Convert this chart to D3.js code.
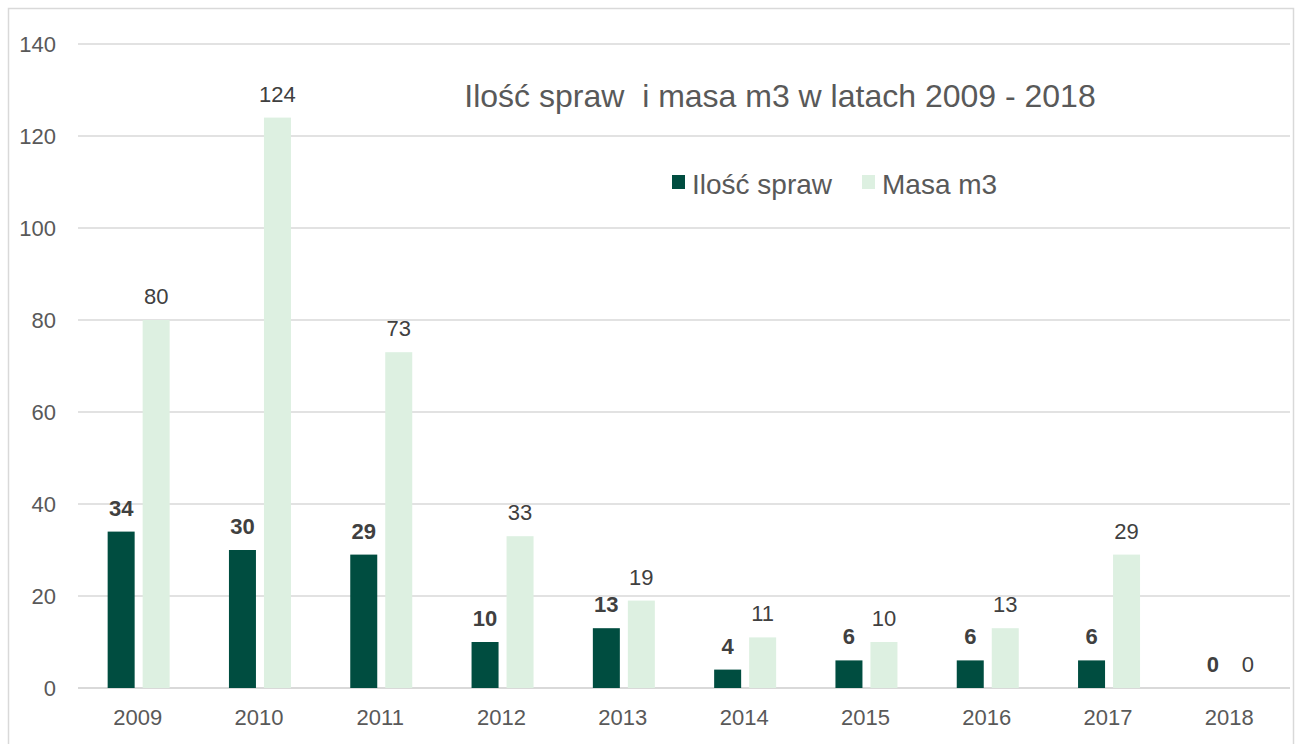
<!DOCTYPE html>
<html>
<head>
<meta charset="utf-8">
<script src="https://cdn.jsdelivr.net/npm/d3@7"></script>
<style>
  body { margin: 0; background: #fff; }
  text { font-family: "Liberation Sans", Arial, sans-serif; }
</style>
</head>
<body>
<svg width="1298" height="744"></svg>
<script>
  var years = ['2009', '2010', '2011', '2012', '2013', '2014', '2015', '2016', '2017', '2018'];
  var sprawy = [34, 30, 29, 10, 13, 4, 6, 6, 6, 0];
  var masa = [80, 124, 73, 33, 19, 11, 10, 13, 29, 0];
  var yTicks = [0, 20, 40, 60, 80, 100, 120, 140];

  var seriesNames = ['Ilość spraw', 'Masa m3'];
  var colors = ['#004D40', '#DDF0E1'];

  var svg = d3.select("svg");

  // ramka wykresu
  svg.append("rect")
    .attr("x", 8.5).attr("y", 8.5)
    .attr("width", 1285).attr("height", 760)
    .style("fill", "none")
    .style("stroke", "#d9d9d9")
    .style("stroke-width", "1.5px");

  var x = d3.scaleBand().domain(years).range([78, 1291]);
  var y = d3.scaleLinear().domain([0, 140]).range([688, 44]);

  var barW = 27, gap = 8;
  var groupOff = (x.bandwidth() - (2 * barW + gap)) / 2;

  // linie siatki
  svg.append("g")
    .selectAll("line")
    .data(yTicks)
    .enter()
    .append("line")
    .attr("x1", 78).attr("x2", 1290)
    .attr("y1", function(d) {return y(d)})
    .attr("y2", function(d) {return y(d)})
    .style("stroke", "#d9d9d9")
    .style("stroke-width", function(d) {return d == 0 ? "2px" : "1.5px"});

  svg.append("g")
    .selectAll("text")
    .data(yTicks)
    .enter()
    .append("text")
    .attr("x", 56)
    .attr("y", function(d) {return y(d)})
    .attr("dy", "0.36em")
    .style("text-anchor", "end")
    .style("font-size", "22px")
    .style("fill", "#595959")
    .text(function(d) {return d;});

  svg.append("g")
    .selectAll("text")
    .data(years)
    .enter()
    .append("text")
    .attr("x", function(d) {return x(d) + x.bandwidth() / 2 - 1})
    .attr("y", 725)
    .style("text-anchor", "middle")
    .style("font-size", "22px")
    .style("fill", "#595959")
    .text(function(d) {return d;});

  var series = [sprawy, masa];
  series.forEach(function(vals, s) {
    var g = svg.append("g").attr("class", "series" + s);
    g.selectAll("rect")
      .data(vals)
      .enter()
      .append("rect")
      .attr("x", function(d, i) {return x(years[i]) + groupOff + s * (barW + gap)})
      .attr("y", function(d) {return y(d)})
      .attr("width", barW)
      .attr("height", function(d) {return y(0) - y(d)})
      .style("fill", colors[s]);

    g.selectAll("text")
      .data(vals)
      .enter()
      .append("text")
      .attr("x", function(d, i) {return x(years[i]) + groupOff + s * (barW + gap) + barW / 2})
      .attr("y", function(d) {return y(d) - 16})
      .style("text-anchor", "middle")
      .style("font-size", "22px")
      .style("font-weight", s == 0 ? "bold" : "normal")
      .style("fill", "#404040")
      .text(function(d) {return d;});
  });

  // tytuł
  svg.append("text")
    .attr("x", 780)
    .attr("y", 107)
    .style("text-anchor", "middle")
    .style("white-space", "pre")
    .style("font-size", "32px")
    .style("fill", "#595959")
    .text("Ilość spraw  i masa m3 w latach 2009 - 2018");

  // legenda
  var legX = [672, 862];
  var leg = svg.append("g")
    .selectAll("g")
    .data(seriesNames)
    .enter()
    .append("g")
    .attr("transform", function(d, i) {return "translate(" + legX[i] + ",175)"});

  leg.append("rect")
    .attr("width", 13).attr("height", 14)
    .style("fill", function(d, i) {return colors[i]});

  leg.append("text")
    .attr("x", 20)
    .attr("y", 19)
    .style("font-size", "28px")
    .style("fill", "#595959")
    .text(function(d) {return d;});
</script>
</body>
</html>
